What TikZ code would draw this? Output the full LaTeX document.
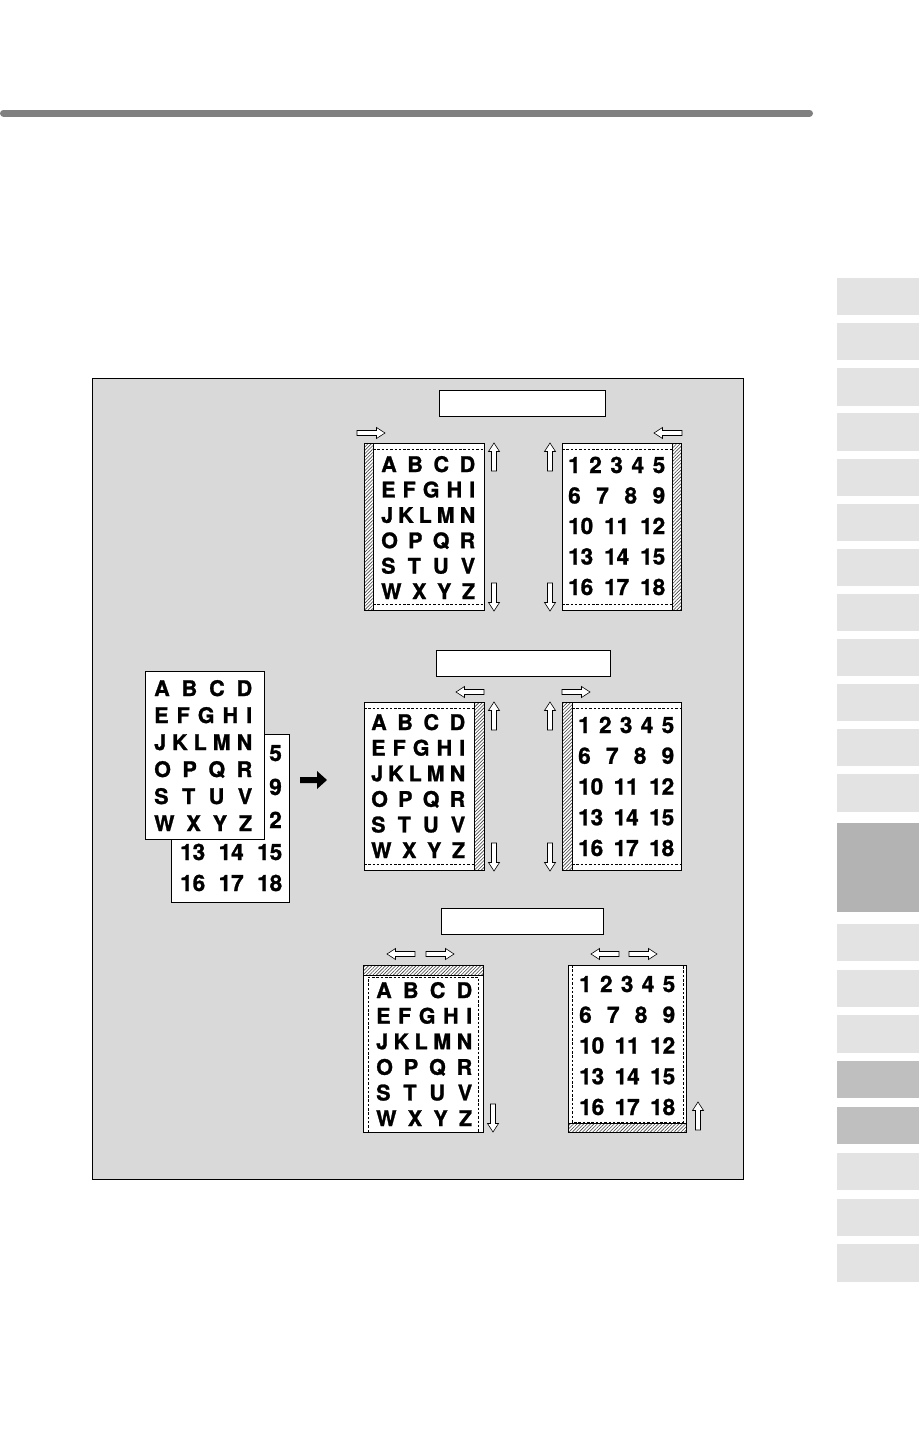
\documentclass[tikz,border=0pt]{standalone}
\usepackage{fontspec}
\setmainfont{TeX Gyre Heros}
\newfontfamily\heavyfont[FakeBold=1.2]{TeX Gyre Heros}
\usetikzlibrary{patterns.meta}
\definecolor{panel}{HTML}{D9D9D9}
\definecolor{tablight}{HTML}{E3E3E3}
\definecolor{tabdark}{HTML}{B3B3B3}
\definecolor{tabmid}{HTML}{BFBFBF}
\definecolor{rulegray}{HTML}{808080}
\definecolor{hatchgray}{HTML}{444444}
\newcommand\blockrows[7]{%
  \foreach \txt [count=\i from 0] in #6 {
    \node[#7] (#1-\i) at ({#2},{#4+\i*#5+8}) {\hbox to #3pt{\txt}};
  }}
\newcommand\letterlist{{A\hfill B\hfill C\hfill D},{E\hfill F\hfill G\hfill H\hfill I},{J\hfill K\hfill L\hfill M\hfill N},{O\hfill P\hfill Q\hfill R},{S\hfill T\hfill U\hfill V},{W\hfill X\hfill Y\hfill Z}}
\newcommand\numberlist{{1\hfill 2\hfill 3\hfill 4\hfill 5},{6\hfill 7\hfill 8\hfill 9},{10\hfill 11\hfill 12},{13\hfill 14\hfill 15},{16\hfill 17\hfill 18}}
\newcommand\lowernumbers{{13\hfill 14\hfill 15},{16\hfill 17\hfill 18}}
\begin{document}
\begin{tikzpicture}[x=1pt,y=-1pt,
  page/.style={draw, fill=white, line width=0.7pt, inner sep=0pt, anchor=north west},
  lblbox/.style={draw, fill=white, line width=0.7pt, inner sep=0pt, anchor=north west},
  glyphs/.style={font=\heavyfont\bfseries\fontsize{21.5}{22}\selectfont, inner sep=0pt, anchor=base west},
  digits/.style={font=\heavyfont\bfseries\fontsize{22.5}{23}\selectfont, inner sep=0pt, anchor=base west},
  hatch/.style={draw, line width=0.6pt, pattern={Lines[angle=45,distance=2.4pt,line width=0.6pt]}, pattern color=hatchgray},
  cutline/.style={dash pattern=on 2.5pt off 1.8pt, line width=0.55pt},
  oarrow/.pic={\draw[fill=white, line width=0.6pt] (0,-2.5) -- (19.5,-2.5) -- (19.5,-5.5) -- (28,0) -- (19.5,5.5) -- (19.5,2.5) -- (0,2.5) -- cycle;}
]
\useasboundingbox (0,0) rectangle (919,1443);
\fill[white] (0,0) rectangle (919,1443);

% top rule
\draw[rulegray, line width=7pt, line cap=round] (3.5,113) -- (809.5,113);

% side tabs
\foreach \ya/\yb in {278/315,323/360,368/406,413/451,459/496,504/541,549/586,594/631,639/676,684/721,729/766,774/812,924/961,970/1007,1015/1053,1153/1190,1199/1236,1244/1282}
  \fill[tablight] (837,\ya) rectangle (919,\yb);
\fill[tabdark] (837,823) rectangle (919,912);
\fill[tabmid] (837,1061) rectangle (919,1098);
\fill[tabmid] (837,1107) rectangle (919,1144);

% panel
\draw[fill=panel, line width=0.7pt] (92,378) rectangle (743,1179);

% label boxes
\node[lblbox, minimum width=166pt, minimum height=26pt] (lb1) at (439,390) {};
\node[lblbox, minimum width=174pt, minimum height=26pt] (lb2) at (436,650) {};
\node[lblbox, minimum width=162pt, minimum height=26pt] (lb3) at (441,908) {};

% ---- top row
\node[page, minimum width=120pt, minimum height=167pt] (p1) at (364,443) {};
\draw[hatch] (364,443) rectangle (373,610);
\draw[cutline] (373,449) -- (484,449) (373,604) -- (484,604);
\blockrows{p1r}{381}{94}{464}{25.4}{\letterlist}{glyphs}

\node[page, minimum width=119pt, minimum height=167pt] (p2) at (562,443) {};
\draw[hatch] (672,443) rectangle (681,610);
\draw[cutline] (562,449) -- (672,449) (562,604) -- (672,604);
\blockrows{p2r}{568}{97}{465}{30.5}{\numberlist}{digits}

\pic at (357,433) {oarrow};
\pic[rotate=180] at (682,433) {oarrow};
\pic[rotate=90] at (494,471) {oarrow};
\pic[rotate=-90] at (494,583) {oarrow};
\pic[rotate=90] at (550,471) {oarrow};
\pic[rotate=-90] at (550,583) {oarrow};

% ---- middle row
\node[page, minimum width=120pt, minimum height=168pt] (p3) at (364,702) {};
\draw[hatch] (474,702) rectangle (484,870);
\draw[cutline] (364,708) -- (474,708) (364,864) -- (474,864);
\blockrows{p3r}{371}{94}{722}{25.6}{\letterlist}{glyphs}

\node[page, minimum width=119pt, minimum height=168pt] (p4) at (562,702) {};
\draw[hatch] (562,702) rectangle (572,870);
\draw[cutline] (572,708) -- (681,708) (572,864) -- (681,864);
\blockrows{p4r}{578}{96}{725}{30.75}{\numberlist}{digits}

\pic[rotate=180] at (484,692) {oarrow};
\pic at (562,692) {oarrow};
\pic[rotate=90] at (494,730) {oarrow};
\pic[rotate=-90] at (494,843) {oarrow};
\pic[rotate=90] at (550,730) {oarrow};
\pic[rotate=-90] at (550,843) {oarrow};

% ---- bottom row
\node[page, minimum width=120pt, minimum height=167pt] (p5) at (363,965) {};
\draw[hatch] (363,965) rectangle (483,975);
\draw[cutline] (368,1132) -- (368,977) -- (478,977) -- (478,1132);
\blockrows{p5r}{376}{96}{990}{25.6}{\letterlist}{glyphs}

\node[page, minimum width=118pt, minimum height=167pt] (p6) at (568,965) {};
\draw[hatch] (568,1123) rectangle (686,1132);
\draw[cutline] (572,965) -- (572,1122) -- (683,1122) -- (683,965);
\blockrows{p6r}{579}{96}{984}{30.75}{\numberlist}{digits}

\pic[rotate=180] at (415,954) {oarrow};
\pic at (426,954) {oarrow};
\pic[rotate=180] at (619,954) {oarrow};
\pic at (629,954) {oarrow};
\pic[rotate=-90] at (493,1104) {oarrow};
\pic[rotate=90] at (698,1130) {oarrow};

% ---- stacked originals
\node[page, minimum width=118pt, minimum height=168pt] (back) at (171,734) {};
\node[digits, anchor=base east] (back-5) at (282,761) {5};
\node[digits, anchor=base east] (back-9) at (282,795) {9};
\node[digits, anchor=base east] (back-12) at (282,828) {2};
\blockrows{backr}{180}{102}{852}{31}{\lowernumbers}{digits}
\node[page, minimum width=119pt, minimum height=168pt] (front) at (145,671) {};
\blockrows{frontr}{154}{98}{688}{27}{\letterlist}{glyphs}

% black arrow
\fill (300,777) -- (317,777) -- (317,771) -- (327,780) -- (317,789) -- (317,783) -- (300,783) -- cycle;
\end{tikzpicture}
\end{document}
